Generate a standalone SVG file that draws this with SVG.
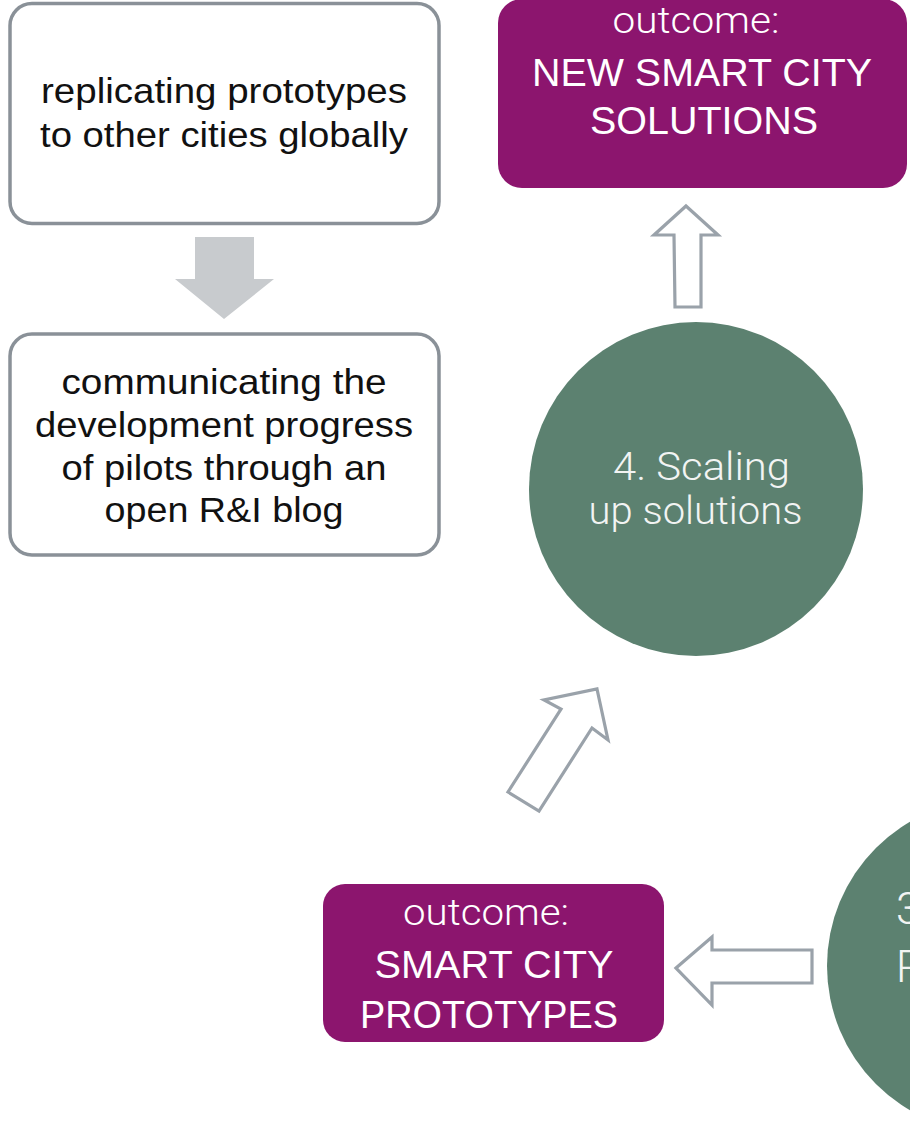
<svg xmlns="http://www.w3.org/2000/svg" width="910" height="1138" viewBox="0 0 910 1138">
<style>
.box{fill:#ffffff;stroke:#8a9198;stroke-width:3.5}
.out{fill:#8c156e}
.circ{fill:#5c8170}
.t{font-family:"Liberation Sans",Arial,sans-serif;font-size:35px;fill:#111111;text-anchor:middle}
.w{font-family:"Liberation Sans",Arial,sans-serif;font-size:38px;fill:#ffffff;text-anchor:middle}
.wl{font-family:Roboto,"Liberation Sans",sans-serif;font-weight:300;font-size:37px;fill:#ffffff;text-anchor:middle}
.cl{font-family:Roboto,"Liberation Sans",sans-serif;font-weight:300;font-size:38px;fill:#f2f4f3;text-anchor:middle}
.arr{fill:#ffffff;stroke:#9aa2aa;stroke-width:3.2;stroke-linejoin:miter}
</style>
<rect width="910" height="1138" fill="#ffffff"/>
<g id="connectors">
<polygon points="195,237 254,237 254,279 274,279 224,319 175,279 195,279" fill="#c8cbce"/>
<polygon class="arr" points="686,206 718,235 701,235 701,307 675,307 674,235 654,235"/>
<polygon class="arr" points="597,689 608,740 592,728 539,811 508,792 561,709 544,700"/>
<polygon class="arr" points="676,968 712,937 712,950 812,950 812,983 712,983 712,1005"/>
</g>
<g id="box-replicating">
<rect class="box" x="10" y="3.5" width="429" height="220" rx="22"/>
<text class="t" x="224" y="103" textLength="366" lengthAdjust="spacingAndGlyphs">replicating prototypes</text>
<text class="t" x="224" y="147" textLength="368" lengthAdjust="spacingAndGlyphs">to other cities globally</text>
</g>
<g id="box-communicating">
<rect class="box" x="10" y="334" width="429" height="221" rx="22"/>
<text class="t" x="224" y="394" textLength="325" lengthAdjust="spacingAndGlyphs">communicating the</text>
<text class="t" x="224" y="437" textLength="378" lengthAdjust="spacingAndGlyphs">development progress</text>
<text class="t" x="224" y="479.5" textLength="325" lengthAdjust="spacingAndGlyphs">of pilots through an</text>
<text class="t" x="224" y="522" textLength="239" lengthAdjust="spacingAndGlyphs">open R&amp;I blog</text>
</g>
<g id="outcome-new-solutions">
<rect class="out" x="498" y="-1" width="409" height="189" rx="24"/>
<text class="wl" x="696" y="33" textLength="167" lengthAdjust="spacingAndGlyphs">outcome:</text>
<text class="w" x="702" y="86" textLength="340" lengthAdjust="spacingAndGlyphs">NEW SMART CITY</text>
<text class="w" x="704" y="134" textLength="228" lengthAdjust="spacingAndGlyphs">SOLUTIONS</text>
</g>
<g id="step4">
<circle class="circ" cx="696" cy="489" r="167"/>
<text class="cl" x="701.5" y="480" textLength="177" lengthAdjust="spacingAndGlyphs">4. Scaling</text>
<text class="cl" x="695.5" y="524" textLength="214" lengthAdjust="spacingAndGlyphs">up solutions</text>
</g>
<g id="outcome-prototypes">
<rect class="out" x="323" y="884" width="341" height="158" rx="22"/>
<text class="wl" x="486" y="925" textLength="166" lengthAdjust="spacingAndGlyphs">outcome:</text>
<text class="w" x="494" y="978" textLength="239" lengthAdjust="spacingAndGlyphs">SMART CITY</text>
<text class="w" x="489" y="1027.5" textLength="258" lengthAdjust="spacingAndGlyphs">PROTOTYPES</text>
</g>
<g id="step3">
<circle class="circ" cx="994" cy="966" r="167"/>
<text class="cl" x="896" y="924" style="text-anchor:start;font-size:44px">3</text>
<text class="cl" x="896" y="982" style="text-anchor:start;font-size:44px">R</text>
</g>
</svg>
